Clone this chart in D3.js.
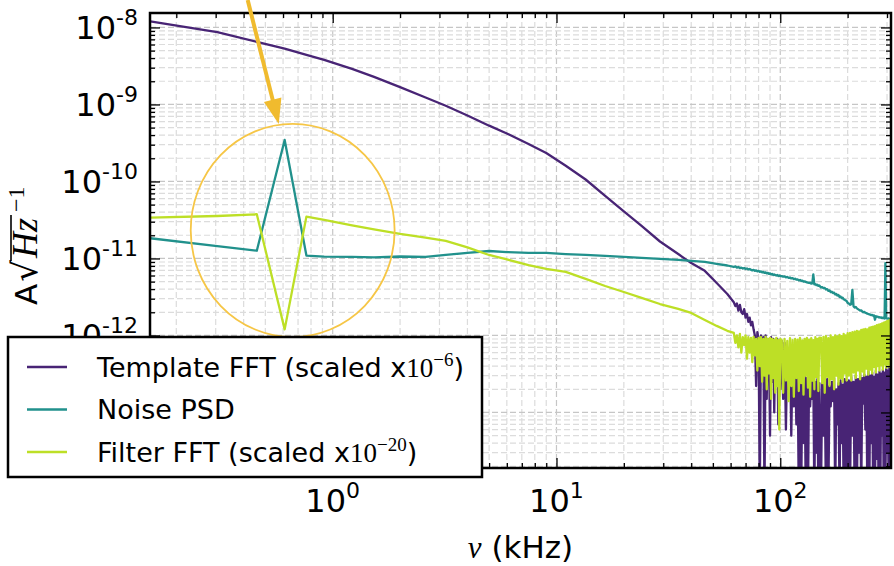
<!DOCTYPE html>
<html>
<head>
<meta charset="utf-8">
<script src="https://cdn.jsdelivr.net/npm/d3@7/dist/d3.min.js"></script>
<style>
  body { margin: 0; background: #fff; }
  svg { display: block; font-family: "DejaVu Sans", sans-serif; }
</style>
</head>
<body>
<svg id="chart" width="894" height="566"></svg>
<script>
// frequency bins (kHz), shared by the three curves
var freqKHz = [0.153, 0.305, 0.458, 0.610, 0.763, 0.916, 1.22, 1.53, 2.0, 2.6,
  3.2, 4.0, 5.0, 6.0, 7.5, 9.0, 11, 13.5, 16.5, 20,
  24, 29, 35, 40, 46, 52, 58,
  62, 63, 64, 65, 66, 67, 68, 69, 70, 71, 72, 73, 74, 75, 76, 77, 78, 79, 80, 81,
  82, 83, 84, 85, 86, 87, 88, 89, 90, 91, 92, 93, 94, 95, 96, 97, 98, 99, 100,
  101.5, 103, 104.5, 106, 107.5, 109, 110.5, 112, 113.5, 115, 116.5, 118, 119.5, 121, 122.5, 124,
  125.5, 127, 128.5, 130, 131.5, 133, 134.5, 136, 137.5, 139, 140.5, 142, 143.5, 145, 146.5, 148, 149.5,
  152, 154, 156, 158, 160, 162, 164, 166, 168, 170, 172, 174, 176, 178, 180, 182, 184, 186, 188, 190,
  192, 194, 196, 198, 200,
  202.5, 205, 207.5, 210, 212.5, 215, 217.5, 220, 222.5, 225, 227.5, 230, 232.5, 235, 237.5, 240,
  242.5, 245, 247.5, 250, 252.5, 255, 257.5, 260, 262.5, 265, 267.5, 270, 272.5, 275, 277.5, 280,
  282.5, 285, 287.5, 290, 292.5, 295, 297.5, 300, 302.5, 305, 307.5, 310, 312.5];

var templateFFT = [1.2e-8, 8.7e-9, 6.5e-9, 5.3e-9, 4.4e-9, 3.8e-9, 2.9e-9, 2.28e-9, 1.68e-9, 1.23e-9,
  9.6e-10, 7.2e-10, 5.3e-10, 4.2e-10, 3.07e-10, 2.34e-10, 1.6e-10, 1.06e-10, 6.5e-11, 4.1e-11,
  2.64e-11, 1.66e-11, 1.14e-11, 8.7e-12, 6.9e-12, 4.8e-12, 3.45e-12,
  2.7e-12, 2.4e-12, 2.6e-12, 2.1e-12, 2.5e-12, 2.0e-12, 1.9e-12, 2.2e-12, 1.7e-12, 1.9e-12,
  1.5e-12, 1.7e-12, 1.35e-12, 1.5e-12, 1.2e-12,
  1.0e-12, 2.2e-13, 1.1e-12, 9e-13, 8e-15, 1.0e-12, 3e-13, 9.5e-13, 8e-15, 1.0e-12,
  1.5e-13, 9e-13, 8e-13, 5e-14, 9.5e-13, 2.5e-13, 9e-13, 1.0e-13, 8.5e-13, 4e-13,
  9e-13, 7e-14, 8.5e-13, 2e-13,
  8.5e-13, 1.5e-13, 8e-13, 6e-14, 7e-13, 2e-13, 6.5e-13, 5e-14, 5.5e-13, 1.2e-13,
  5e-13, 7e-14, 4e-13, 8e-15, 3.5e-13, 8e-15, 3e-13, 4e-14, 3.2e-13, 8e-15,
  2.8e-13, 8e-15, 3e-13, 1.2e-13, 2.6e-13, 1.5e-13, 2.9e-13, 8e-15, 2.5e-13, 3e-14,
  2.7e-13, 8e-15, 2.4e-13,
  8e-15, 2.6e-13, 5e-14, 2.3e-13, 8e-15, 2.7e-13, 8e-15, 2.2e-13, 1.2e-13, 2.5e-13,
  1.4e-13, 2.8e-13, 8e-15, 2e-13, 7e-14, 2.4e-13, 8e-15, 2.6e-13, 4e-14, 2.3e-13,
  8e-15, 2.7e-13, 8e-15, 2.5e-13, 8e-15,
  2.6e-13, 8e-15, 2.9e-13, 5e-14, 2.5e-13, 8e-15, 3e-13, 8e-15, 2.7e-13, 3e-14,
  3.2e-13, 8e-15, 2.8e-13, 1.3e-13, 3.1e-13, 6e-14, 2.9e-13, 8e-15, 3.4e-13, 8e-15,
  3e-13, 4e-14, 3.3e-13, 8e-15, 2.9e-13, 8e-15, 3.5e-13, 2.5e-14, 3.1e-13, 8e-15,
  3.4e-13, 8e-15, 3.2e-13, 5e-14, 3.6e-13, 8e-15, 3.3e-13, 8e-15, 3.7e-13, 3e-14,
  3.5e-13, 8e-15, 3.8e-13, 8e-15, 3.6e-13];

var noisePSD = [1.83e-11, 1.45e-11, 1.26e-11, 3.46e-10, 1.09e-11, 1.055e-11, 1.05e-11, 1.03e-11, 1.06e-11, 1.05e-11,
  1.11e-11, 1.18e-11, 1.25e-11, 1.21e-11, 1.18e-11, 1.18e-11, 1.14e-11, 1.11e-11, 1.08e-11, 1.05e-11,
  1.015e-11, 9.85e-12, 9.56e-12, 9.28e-12, 9.0e-12, 8.48e-12, 8.1e-12,
  7.75e-12, 7.9e-12, 7.6e-12, 7.75e-12, 7.5e-12, 7.6e-12, 7.4e-12, 7.5e-12, 7.3e-12, 7.4e-12,
  7.2e-12, 7.3e-12, 7.1e-12, 7.0e-12, 7.1e-12, 6.9e-12, 7.0e-12, 6.8e-12, 6.9e-12, 6.7e-12,
  6.8e-12, 6.6e-12, 6.7e-12, 6.5e-12, 6.6e-12, 6.4e-12, 6.5e-12, 6.3e-12, 6.4e-12, 6.2e-12,
  6.3e-12, 6.1e-12, 6.2e-12, 6.1e-12, 6.0e-12, 6.1e-12, 5.9e-12, 6.0e-12, 5.9e-12,
  5.9e-12, 5.8e-12, 5.85e-12, 5.7e-12, 5.75e-12, 5.6e-12, 5.65e-12, 5.5e-12, 5.55e-12, 5.4e-12,
  5.45e-12, 5.3e-12, 5.35e-12, 5.2e-12, 5.25e-12, 5.1e-12, 5.15e-12, 5.0e-12, 5.05e-12, 4.95e-12,
  4.9e-12, 4.85e-12, 4.8e-12, 4.85e-12, 4.7e-12, 4.75e-12, 6.2e-12, 4.6e-12, 4.65e-12, 4.5e-12,
  4.55e-12, 4.4e-12, 4.45e-12,
  4.2e-12, 4.25e-12, 4.1e-12, 4.15e-12, 3.95e-12, 4.0e-12, 3.8e-12, 3.85e-12, 3.65e-12, 3.7e-12,
  3.55e-12, 3.6e-12, 3.4e-12, 3.45e-12, 3.3e-12, 3.35e-12, 3.15e-12, 3.2e-12, 3.05e-12, 3.1e-12,
  2.95e-12, 2.9e-12, 2.85e-12, 2.8e-12, 2.65e-12,
  2.6e-12, 2.5e-12, 2.55e-12, 3.9e-12, 2.4e-12, 2.3e-12, 2.35e-12, 2.25e-12, 2.2e-12, 2.15e-12,
  2.1e-12, 2.12e-12, 2.05e-12, 2.0e-12, 2.02e-12, 1.97e-12, 1.95e-12, 1.92e-12, 1.9e-12, 1.88e-12,
  1.86e-12, 1.84e-12, 1.85e-12, 1.8e-12, 1.82e-12, 1.6e-12, 1.78e-12, 1.75e-12, 1.76e-12, 1.72e-12,
  1.73e-12, 1.7e-12, 1.72e-12, 1.68e-12, 1.7e-12, 1.68e-12, 1.66e-12, 8.7e-12, 1.68e-12, 1.66e-12,
  1.65e-12, 1.67e-12, 1.64e-12, 1.63e-12, 1.64e-12];

var filterFFT = [3.39e-11, 3.56e-11, 3.75e-11, 1.2e-12, 3.49e-11, 3.16e-11, 2.68e-11, 2.38e-11, 2.08e-11, 1.87e-11,
  1.69e-11, 1.39e-11, 1.11e-11, 9.7e-12, 8.2e-12, 7.3e-12, 6.68e-12, 5.42e-12, 4.39e-12, 3.67e-12,
  3.07e-12, 2.56e-12, 2.21e-12, 1.96e-12, 1.59e-12, 1.33e-12, 1.15e-12,
  1.08e-12, 8e-13, 1.0e-12, 7e-13, 1.05e-12, 6e-13, 9.5e-13, 7.5e-13, 1.0e-12, 5e-13,
  9.5e-13, 6e-13, 9.3e-13, 4.5e-13, 9.6e-13, 5.5e-13, 9e-13, 3.5e-13, 9.3e-13, 4e-13,
  9.5e-13, 2.5e-13, 9e-13, 3e-13, 9.6e-13, 2e-13, 9e-13, 3.2e-13, 9.3e-13, 1.5e-13,
  9e-13, 2.8e-13, 8.8e-13, 1.8e-13, 9.3e-13, 2.2e-13, 8.7e-13, 6e-14, 9e-13,
  8.7e-13, 1.8e-13, 9e-13, 2.6e-13, 8.5e-13, 1.4e-13, 9.2e-13, 2.2e-13, 8.7e-13, 1.6e-13,
  9e-13, 2.8e-13, 8.8e-13, 1.9e-13, 9.3e-13, 2.4e-13, 8.6e-13, 1.7e-13, 9e-13, 3e-13,
  9.3e-13, 2.1e-13, 8.8e-13, 1.6e-13, 9.2e-13, 2.6e-13, 8.7e-13, 2e-13, 9.5e-13, 2.9e-13,
  9e-13, 1.9e-13, 9.4e-13,
  9.3e-13, 2.4e-13, 9.6e-13, 1.8e-13, 9.8e-13, 2.9e-13, 9.2e-13, 2.2e-13, 1.0e-12, 2.7e-13,
  9.5e-13, 2e-13, 1.0e-12, 3e-13, 9.7e-13, 2.3e-13, 1.02e-12, 2.8e-13, 9.8e-13, 2.5e-13,
  1.05e-12, 3.2e-13, 1.0e-12, 2.6e-13, 1.07e-12,
  3.0e-13, 1.08e-12, 2.6e-13, 1.1e-12, 3.3e-13, 1.12e-12, 2.8e-13, 1.15e-12, 3.5e-13, 1.13e-12,
  2.7e-13, 1.18e-12, 3.4e-13, 1.2e-12, 3.0e-13, 1.22e-12, 3.7e-13, 1.2e-12, 3.1e-13, 1.26e-12,
  3.6e-13, 1.28e-12, 3.2e-13, 1.3e-12, 3.9e-13, 1.32e-12, 3.3e-13, 1.36e-12, 4.0e-13, 1.38e-12,
  3.5e-13, 1.4e-12, 4.1e-13, 1.43e-12, 3.6e-13, 1.47e-12, 4.2e-13, 1.5e-12, 3.8e-13, 1.53e-12,
  4.2e-13, 1.56e-12, 3.9e-13, 1.6e-12, 4.3e-13];

var seriesLabels = ["Template FFT (scaled x", "Noise PSD", "Filter FFT (scaled x"];
var seriesExponents = ["\u22126", null, "\u221220"];
var seriesColors = ["#482475", "#21918c", "#bddf26"];

var xMajorTicks = [1, 10, 100];
var yMajorTicks = [1e-8, 1e-9, 1e-10, 1e-11, 1e-12, 1e-13];
var yLabelTicks = [1e-8, 1e-9, 1e-10, 1e-11, 1e-12];   // 1e-13 sits under the legend

// circled spike and the arrow that points at it
var ringFreq = [0.232, 1.891], ringVal = [5.58e-10, 9.56e-13];
var arrowFreq = [0.417, 0.574], arrowVal = [2.27e-8, 5.58e-10];

var svg = d3.select("#chart");
var plot = {left: 150, right: 891, top: 13, bottom: 468};

var x = d3.scaleLog().domain([0.1526, 312.5]).range([plot.left, plot.right]);
var y = d3.scaleLog().domain([1.9e-14, 1.54e-8]).range([plot.bottom, plot.top]);

function isMajor(v) { var l = Math.log10(v); return Math.abs(l - Math.round(l)) < 1e-6; }
var xAll = x.ticks(), yAll = y.ticks();
var xMinor = xAll.filter(function(d) { return !isMajor(d); });
var yMinor = yAll.filter(function(d) { return !isMajor(d); });

// dashed grid on major and minor ticks
var grid = svg.append("g").attr("stroke-dasharray", "6,3").attr("stroke-width", 1.2);
grid.selectAll(".gx").data(xAll).join("line")
    .attr("x1", function(d) { return x(d); }).attr("x2", function(d) { return x(d); })
    .attr("y1", plot.top).attr("y2", plot.bottom)
    .attr("stroke", function(d) { return isMajor(d) ? "#c6c6c6" : "#dcdcdc"; });
grid.selectAll(".gy").data(yAll).join("line")
    .attr("y1", function(d) { return y(d); }).attr("y2", function(d) { return y(d); })
    .attr("x1", plot.left).attr("x2", plot.right)
    .attr("stroke", function(d) { return isMajor(d) ? "#c6c6c6" : "#dcdcdc"; });

svg.append("clipPath").attr("id", "clip").append("rect")
    .attr("x", plot.left).attr("y", plot.top)
    .attr("width", plot.right - plot.left).attr("height", plot.bottom - plot.top);

var line = d3.line()
    .x(function(d, i) { return x(freqKHz[i]); })
    .y(function(d) { return y(d); });

var curves = svg.append("g").attr("clip-path", "url(#clip)");
[templateFFT, noisePSD, filterFFT].forEach(function(s, i) {
  curves.append("path").datum(s)
      .attr("d", line)
      .attr("fill", "none")
      .attr("stroke", seriesColors[i])
      .attr("stroke-width", 2.3)
      .attr("stroke-linejoin", "round");
});

// ring around the spike
svg.append("ellipse")
    .attr("cx", (x(ringFreq[0]) + x(ringFreq[1])) / 2)
    .attr("cy", (y(ringVal[0]) + y(ringVal[1])) / 2)
    .attr("rx", (x(ringFreq[1]) - x(ringFreq[0])) / 2)
    .attr("ry", (y(ringVal[1]) - y(ringVal[0])) / 2)
    .attr("fill", "none").attr("stroke", "#f6c646").attr("stroke-width", 1.8);

// frame
svg.append("rect")
    .attr("x", plot.left).attr("y", plot.top)
    .attr("width", plot.right - plot.left).attr("height", plot.bottom - plot.top)
    .attr("fill", "none").attr("stroke", "#000").attr("stroke-width", 2.5);

// inward ticks on all four sides
function tickMarks(axis, tx, ty) {
  var g = svg.append("g").attr("transform", "translate(" + tx + "," + ty + ")").call(axis);
  g.select(".domain").remove();
  g.selectAll("line").attr("stroke", "#000").attr("stroke-width", 1.3);
}
tickMarks(d3.axisLeft(y).tickValues(yMajorTicks).tickSize(-10).tickFormat(""), plot.left, 0);
tickMarks(d3.axisLeft(y).tickValues(yMinor).tickSize(-5).tickFormat(""), plot.left, 0);
tickMarks(d3.axisRight(y).tickValues(yMajorTicks).tickSize(-10).tickFormat(""), plot.right, 0);
tickMarks(d3.axisRight(y).tickValues(yMinor).tickSize(-5).tickFormat(""), plot.right, 0);
tickMarks(d3.axisBottom(x).tickValues(xMajorTicks).tickSize(-10).tickFormat(""), 0, plot.bottom);
tickMarks(d3.axisBottom(x).tickValues(xMinor).tickSize(-5).tickFormat(""), 0, plot.bottom);
tickMarks(d3.axisTop(x).tickValues(xMajorTicks).tickSize(-10).tickFormat(""), 0, plot.top);
tickMarks(d3.axisTop(x).tickValues(xMinor).tickSize(-5).tickFormat(""), 0, plot.top);

// tick labels as 10^n
yLabelTicks.forEach(function(v) {
  var t = svg.append("text").attr("x", 138).attr("y", y(v) + 12)
      .attr("text-anchor", "end").style("font-size", "32px");
  t.append("tspan").text("10");
  t.append("tspan").attr("dy", -14).style("font-size", "22px").text(Math.round(Math.log10(v)));
});
xMajorTicks.forEach(function(v) {
  var t = svg.append("text").attr("x", x(v)).attr("y", 512)
      .attr("text-anchor", "middle").style("font-size", "32px");
  t.append("tspan").text("10");
  t.append("tspan").attr("dy", -14).style("font-size", "22px").text(Math.round(Math.log10(v)));
});

// axis titles
var xt = svg.append("text").attr("x", (plot.left + plot.right) / 2).attr("y", 558)
    .attr("text-anchor", "middle").style("font-size", "31px");
xt.append("tspan").style("font-family", "'Liberation Serif', serif").style("font-style", "italic").text("\u03bd");
xt.append("tspan").text(" (kHz)");

var yt = svg.append("g").attr("transform", "translate(37,305) rotate(-90)");
var tA = yt.append("text").attr("x", 0).attr("y", 0).style("font-size", "31px").text("A");
var px = tA.node().getComputedTextLength() + 2;
var tR = yt.append("text").attr("x", px).attr("y", 0).style("font-size", "34px").text("\u221a");
px += tR.node().getComputedTextLength();
var tHz = yt.append("text").attr("x", px + 2).attr("y", 0)
    .style("font-family", "'Liberation Serif', serif").style("font-style", "italic")
    .style("font-size", "36px").text("Hz");
var hzEnd = px + 2 + tHz.node().getComputedTextLength();
yt.append("line").attr("x1", px - 1).attr("x2", hzEnd + 3).attr("y1", -26).attr("y2", -26)
    .attr("stroke", "#000").attr("stroke-width", 1.6);
yt.append("text").attr("x", hzEnd + 6).attr("y", -13)
    .style("font-family", "'Liberation Serif', serif").style("font-size", "24px").text("\u22121");

// arrow
var ax0 = x(arrowFreq[0]), ay0 = y(arrowVal[0]), ax1 = x(arrowFreq[1]), ay1 = y(arrowVal[1]);
var len = Math.hypot(ax1 - ax0, ay1 - ay0), ux = (ax1 - ax0) / len, uy = (ay1 - ay0) / len;
var bx = ax1 - ux * 25, by = ay1 - uy * 25;
svg.append("line").attr("x1", ax0).attr("y1", ay0).attr("x2", bx + ux * 3).attr("y2", by + uy * 3)
    .attr("stroke", "#f0bb2e").attr("stroke-width", 4);
svg.append("polygon")
    .attr("points", [[ax1, ay1], [bx - uy * 9, by + ux * 9], [bx + uy * 9, by - ux * 9]].join(" "))
    .attr("fill", "#f0bb2e");

// legend
var leg = svg.append("g");
leg.append("rect").attr("x", 8).attr("y", 337).attr("width", 474).attr("height", 140)
    .attr("fill", "#fff").attr("stroke", "#000").attr("stroke-width", 2.5);
seriesLabels.forEach(function(lbl, i) {
  var ly = 367 + i * 42.5;
  leg.append("line").attr("x1", 27).attr("x2", 67).attr("y1", ly).attr("y2", ly)
      .attr("stroke", seriesColors[i]).attr("stroke-width", 2.3);
  var t = leg.append("text").attr("x", 97).attr("y", ly + 9.5).style("font-size", "27px");
  t.append("tspan").text(lbl);
  if (seriesExponents[i]) {
    t.append("tspan").style("font-family", "'Liberation Serif', serif").text("10");
    t.append("tspan").attr("dy", -11).style("font-family", "'Liberation Serif', serif")
        .style("font-size", "19px").text(seriesExponents[i]);
    t.append("tspan").attr("dy", 11).text(")");
  }
});
</script>
</body>
</html>
